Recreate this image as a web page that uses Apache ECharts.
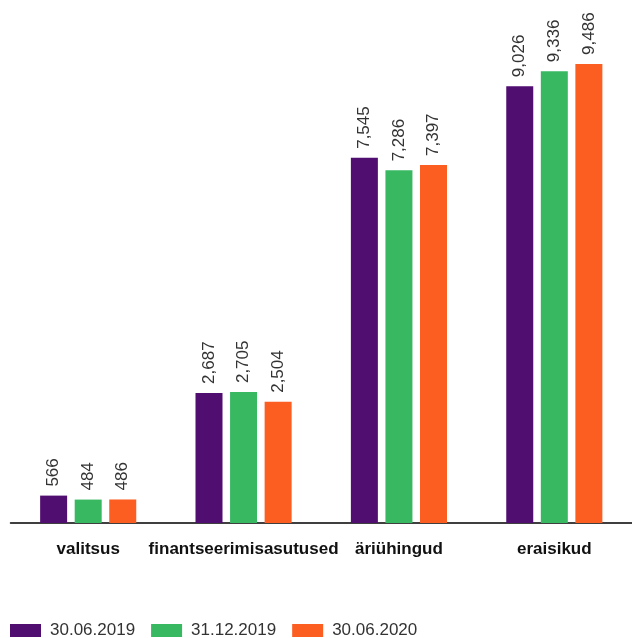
<!DOCTYPE html>
<html><head><meta charset="utf-8">
<script src="https://cdn.jsdelivr.net/npm/echarts@6/dist/echarts.min.js"></script>
<style>html,body{margin:0;padding:0;background:#fff}#c{width:632px;height:638px}</style>
</head><body><div id="c"></div>
<script>
const categories = ['valitsus','finantseerimisasutused','äriühingud','eraisikud'];
const seriesNames = ['30.06.2019','31.12.2019','30.06.2020'];
const s2019jun = [566, 2687, 7545, 9026];
const s2019dec = [484, 2705, 7286, 9336];
const s2020jun = [486, 2504, 7397, 9486];
const colors = ['#500e71','#39b862','#fc5d21'];
const values = [s2019jun, s2019dec, s2020jun];
const font = '"Liberation Sans", Arial, sans-serif';
const chart = echarts.init(document.getElementById('c'));
chart.setOption({
  animation:false,
  grid:{left:10.5, top:39, width:624, height:484, containLabel:false},
  legend:{left:10, top:622, padding:0, itemWidth:31, itemHeight:13, itemGap:16, icon:'rect',
    textStyle:{fontFamily:font, fontSize:17, color:'#333', padding:[0,0,0,4]}, data:seriesNames},
  xAxis:{type:'category', data:categories, axisTick:{show:false},
    axisLine:{lineStyle:{color:'#000', width:1.5}},
    axisLabel:{interval:0, fontFamily:font, fontSize:17, fontWeight:'bold', color:'#111', margin:18}},
  yAxis:{type:'value', min:0, max:10000, show:false, splitLine:{show:false}},
  series: seriesNames.map((n,i)=>({
    name:n, type:'bar', data:values[i], barWidth:27, barGap:'28%',
    itemStyle:{color:colors[i]},
    label:{show:true, position:'top', rotate:90, align:'left', verticalAlign:'middle', distance:9,
      fontFamily:font, fontSize:17, color:'#333',
      formatter:p=>p.value.toLocaleString('en-US')}
  }))
});
</script></body></html>
